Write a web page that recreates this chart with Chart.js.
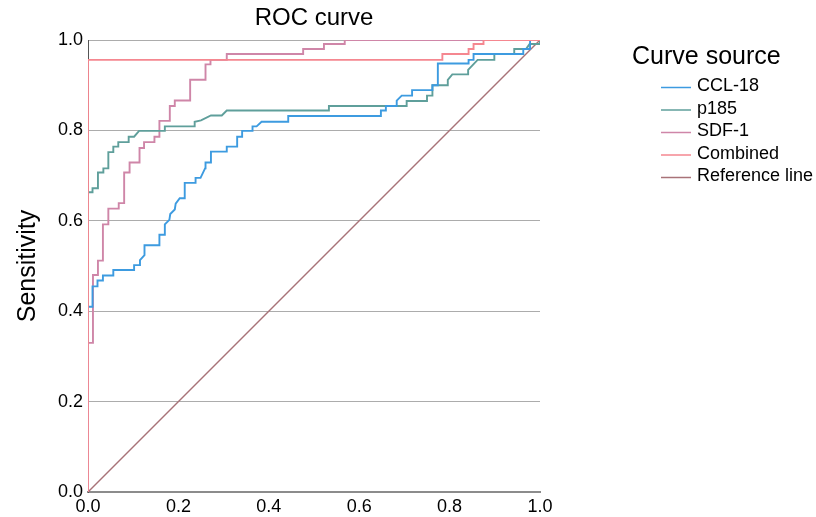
<!DOCTYPE html>
<html>
<head>
<meta charset="utf-8">
<script src="https://cdn.jsdelivr.net/npm/chart.js@4"></script>
<style>
  html, body { margin: 0; padding: 0; background: #fff; }
  #wrap { width: 816px; height: 517px; }
</style>
</head>
<body>
<div id="wrap"><canvas id="roc" width="816" height="517"></canvas></div>
<script>
// ROC points (1 - specificity, sensitivity)
const ccl18Fpr = [0, 0, 0.010, 0.010, 0.021, 0.021, 0.033, 0.033, 0.056, 0.056, 0.102, 0.102, 0.113, 0.115, 0.125, 0.125,
  0.158, 0.158, 0.170, 0.170, 0.180, 0.182, 0.192, 0.194, 0.203, 0.214, 0.214, 0.238, 0.238, 0.249, 0.259, 0.260,
  0.272, 0.272, 0.307, 0.307, 0.330, 0.330, 0.341, 0.341, 0.364, 0.364, 0.373, 0.384, 0.443, 0.443, 0.648, 0.648,
  0.659, 0.659, 0.683, 0.683, 0.694, 0.717, 0.717, 0.762, 0.762, 0.774, 0.774, 0.842, 0.842, 0.853, 0.853, 0.963,
  0.963, 0.978, 0.978, 1.0];
const ccl18Tpr = [0, 0.410, 0.410, 0.455, 0.455, 0.468, 0.468, 0.479, 0.479, 0.491, 0.491, 0.502, 0.502, 0.513, 0.524, 0.546,
  0.546, 0.569, 0.569, 0.592, 0.602, 0.615, 0.625, 0.638, 0.650, 0.650, 0.684, 0.684, 0.695, 0.695, 0.716, 0.729,
  0.729, 0.753, 0.753, 0.764, 0.764, 0.786, 0.786, 0.799, 0.799, 0.809, 0.809, 0.819, 0.819, 0.832, 0.832, 0.844,
  0.844, 0.854, 0.854, 0.866, 0.877, 0.877, 0.889, 0.889, 0.900, 0.900, 0.948, 0.948, 0.956, 0.956, 0.969, 0.969,
  0.980, 0.980, 1.0, 1.0];

const p185Fpr = [0, 0, 0.010, 0.010, 0.022, 0.022, 0.034, 0.034, 0.045, 0.045, 0.056, 0.056, 0.067, 0.067, 0.090, 0.090,
  0.102, 0.113, 0.170, 0.170, 0.236, 0.236, 0.250, 0.272, 0.296, 0.307, 0.533, 0.533, 0.705, 0.705, 0.750, 0.750,
  0.762, 0.762, 0.796, 0.796, 0.806, 0.841, 0.841, 0.862, 0.899, 0.899, 0.943, 0.943, 0.969, 0.977, 1.0, 1.0];
const p185Tpr = [0, 0.663, 0.663, 0.672, 0.672, 0.707, 0.707, 0.716, 0.716, 0.752, 0.752, 0.764, 0.764, 0.774, 0.774, 0.786,
  0.786, 0.799, 0.799, 0.809, 0.809, 0.819, 0.822, 0.833, 0.833, 0.844, 0.844, 0.854, 0.854, 0.865, 0.865, 0.877,
  0.877, 0.900, 0.900, 0.912, 0.924, 0.924, 0.934, 0.956, 0.956, 0.969, 0.969, 0.980, 0.980, 0.991, 0.991, 1.0];

const sdf1Fpr = [0, 0, 0.011, 0.011, 0.022, 0.022, 0.033, 0.033, 0.045, 0.045, 0.068, 0.068, 0.080, 0.080, 0.092, 0.092,
  0.114, 0.114, 0.124, 0.124, 0.147, 0.147, 0.158, 0.158, 0.181, 0.181, 0.192, 0.192, 0.226, 0.226, 0.260, 0.260,
  0.271, 0.271, 0.307, 0.307, 0.476, 0.476, 0.522, 0.522, 0.568, 0.568, 1.0];
const sdf1Tpr = [0, 0.330, 0.330, 0.480, 0.480, 0.512, 0.512, 0.592, 0.592, 0.627, 0.627, 0.639, 0.639, 0.707, 0.707, 0.729,
  0.729, 0.761, 0.761, 0.774, 0.774, 0.786, 0.786, 0.821, 0.821, 0.854, 0.854, 0.866, 0.866, 0.912, 0.912, 0.946,
  0.946, 0.956, 0.956, 0.969, 0.969, 0.980, 0.980, 0.991, 0.991, 1.0, 1.0];

const combinedFpr = [0, 0, 0.784, 0.784, 0.842, 0.842, 0.853, 0.853, 0.875, 0.875, 1.0];
const combinedTpr = [0, 0.956, 0.956, 0.969, 0.969, 0.980, 0.980, 0.991, 0.991, 1.0, 1.0];

const refFpr = [0, 1];
const refTpr = [0, 1];

const seriesNames = ["CCL-18", "p185", "SDF-1", "Combined", "Reference line"];
const seriesColors = ["#3d9be0", "#5f9f9b", "#cf86a8", "#f58790", "#a87378"];
const axisTicks = [0, 0.2, 0.4, 0.6, 0.8, 1.0];

const FONT = '"Liberation Sans", Arial, sans-serif';

function toPoints(xs, ys) {
  return xs.map((x, i) => ({ x: x, y: ys[i] }));
}

const allFpr = [ccl18Fpr, p185Fpr, sdf1Fpr, combinedFpr, refFpr];
const allTpr = [ccl18Tpr, p185Tpr, sdf1Tpr, combinedTpr, refTpr];
const drawOrder = [1, 2, 3, 0, 4]; // combined on top

const datasets = seriesNames.map((name, i) => ({
  label: name,
  data: toPoints(allFpr[i], allTpr[i]),
  borderColor: seriesColors[i],
  backgroundColor: seriesColors[i],
  borderWidth: i === 4 ? 1.4 : 1.9,
  showLine: true,
  pointRadius: 0,
  fill: false,
  tension: 0,
  order: drawOrder[i]
}));

// title, y axis title and legend
const textPlugin = {
  id: 'textPlugin',
  afterDraw(chart) {
    const ctx = chart.ctx;
    const area = chart.chartArea;
    ctx.save();
    ctx.fillStyle = '#000';

    ctx.font = '24px ' + FONT;
    ctx.textAlign = 'center';
    ctx.textBaseline = 'middle';
    ctx.fillText('ROC curve', (area.left + area.right) / 2, 18);

    ctx.save();
    ctx.translate(28, (area.top + area.bottom) / 2);
    ctx.rotate(-Math.PI / 2);
    ctx.font = '25px ' + FONT;
    ctx.fillText('Sensitivity', 0, 0);
    ctx.restore();

    ctx.textAlign = 'left';
    ctx.font = '25px ' + FONT;
    ctx.fillText('Curve source', 632, 57);

    ctx.font = '18px ' + FONT;
    seriesNames.forEach((name, i) => {
      const y = 86.5 + i * 22.5;
      ctx.strokeStyle = seriesColors[i];
      ctx.lineWidth = 1.5;
      ctx.beginPath();
      ctx.moveTo(661, y + 1);
      ctx.lineTo(691, y + 1);
      ctx.stroke();
      ctx.fillStyle = '#000';
      ctx.fillText(name, 697, y);
    });
    ctx.restore();
  }
};

new Chart(document.getElementById('roc'), {
  type: 'scatter',
  data: { datasets: datasets },
  options: {
    responsive: false,
    devicePixelRatio: 1,
    animation: false,
    layout: { padding: { top: 40, right: 276, left: 0, bottom: 0 } },
    plugins: {
      legend: { display: false },
      tooltip: { enabled: false },
      title: { display: false }
    },
    scales: {
      x: {
        type: 'linear',
        min: 0,
        max: 1,
        afterFit: (scale) => { scale.height = 25; },
        afterBuildTicks: (scale) => { scale.ticks = axisTicks.map(v => ({ value: v })); },
        grid: { display: false, drawTicks: false },
        border: { display: true, color: '#8c8c8c', width: 2 },
        ticks: {
          padding: 4,
          color: '#000',
          font: { family: FONT, size: 18 },
          maxRotation: 0,
          callback: (v) => Number(v).toFixed(1)
        }
      },
      y: {
        type: 'linear',
        min: 0,
        max: 1,
        afterFit: (scale) => { scale.width = 88; },
        afterBuildTicks: (scale) => { scale.ticks = axisTicks.map(v => ({ value: v })); },
        grid: { color: '#acacac', lineWidth: 1, drawTicks: false },
        border: { display: true, color: '#555', width: 1 },
        ticks: {
          padding: 5,
          color: '#000',
          font: { family: FONT, size: 18 },
          callback: (v) => Number(v).toFixed(1)
        }
      }
    }
  },
  plugins: [textPlugin]
});
</script>
</body>
</html>
